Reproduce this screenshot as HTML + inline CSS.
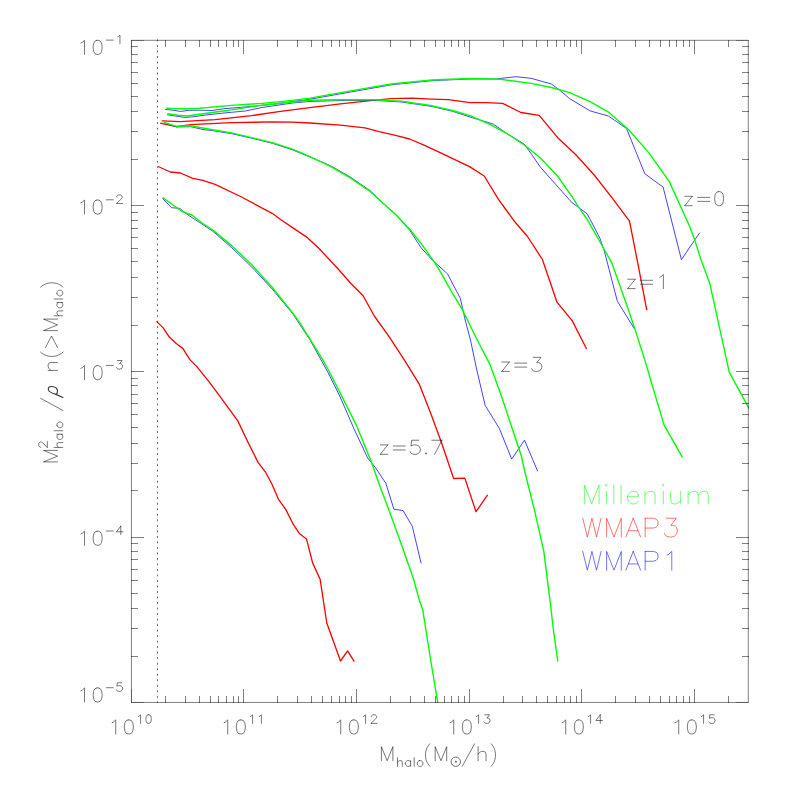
<!DOCTYPE html>
<html><head><meta charset="utf-8"><title>Halo mass function</title>
<style>
html,body{margin:0;padding:0;background:#fff;font-family:"Liberation Sans",sans-serif;}
svg{display:block}
</style></head>
<body>
<svg width="786" height="786" viewBox="0 0 786 786">
<rect width="786" height="786" fill="#fff"/>
<defs><clipPath id="c"><rect x="131.50" y="40.50" width="617.50" height="662.50"/></clipPath></defs>
<g clip-path="url(#c)" fill="none" stroke-linejoin="round" stroke-linecap="butt">
<path d="M161.7 120.8 L180.5 121.7 L215.1 119.7 L251.8 115.6 L282.3 111.1 L310.0 107.6 L340.5 103.8 L375.1 100.1 L391.4 98.7 L411.8 98.1 L432.1 99.1 L448.4 99.7 L470.0 102.7 L486.3 102.7 L502.6 103.4 L520.9 112.5 L539.2 115.4 L557.5 137.4 L575.9 154.7 L594.2 175.0 L612.5 198.4 L629.5 221.1 L637.0 259.2 L646.8 310.2" stroke="#ff0000" stroke-width="1.32"/>
<path d="M160.2 123.2 L176.6 126.6 L190.7 124.6 L231.4 122.7 L272.1 121.9 L292.5 122.1 L310.0 123.0 L340.5 125.1 L365.0 127.8 L379.2 131.7 L395.5 135.3 L409.7 139.0 L424.0 145.1 L442.3 153.6 L470.0 166.9 L484.2 176.0 L498.5 199.4 L506.2 210.0 L514.3 221.2 L527.5 236.5 L542.4 259.5 L557.0 302.2 L572.3 320.9 L586.6 349.0" stroke="#ff0000" stroke-width="1.32"/>
<path d="M158.1 166.5 L170.4 172.0 L180.5 173.0 L192.7 178.3 L202.9 180.4 L215.1 184.4 L241.6 197.0 L272.1 213.3 L281.3 220.0 L292.5 227.6 L300.0 232.6 L306.1 236.6 L318.3 247.8 L336.6 267.2 L350.9 283.5 L363.1 295.7 L374.3 316.0 L389.6 337.4 L403.8 359.2 L419.4 384.4 L430.6 412.9 L441.8 443.5 L453.6 478.5 L464.8 478.1 L476.0 511.7 L487.6 494.8" stroke="#ff0000" stroke-width="1.32"/>
<path d="M156.5 321.4 L163.2 327.9 L169.3 337.1 L176.5 343.8 L183.0 348.6 L189.7 359.4 L196.8 366.6 L207.0 379.2 L218.5 394.4 L237.8 420.9 L248.0 442.3 L258.2 462.6 L265.3 471.8 L271.4 483.0 L278.5 499.3 L285.7 509.4 L293.2 524.2 L299.3 533.4 L306.5 538.9 L312.6 562.9 L320.1 579.2 L326.8 623.0 L340.5 661.0 L347.6 650.9 L354.3 661.7" stroke="#ff0000" stroke-width="1.32"/>
<path d="M165.2 109.4 L172.8 110.2 L180.8 111.4 L188.8 110.3 L199.5 110.2 L212.0 110.5 L225.0 108.6 L241.6 107.3 L272.0 104.4 L310.0 99.2 L350.7 92.0 L391.4 84.8 L432.1 80.6 L470.0 79.0 L496.5 78.9 L515.8 76.7 L531.1 78.3 L551.4 84.0 L559.6 90.1 L569.7 98.7 L590.1 110.9 L608.4 116.0 L626.5 128.5 L644.8 173.7 L663.1 187.1 L681.4 259.6 L699.7 232.7" stroke="#0000ff" stroke-opacity="1" stroke-width="0.74"/>
<path d="M167.0 114.7 L184.4 117.4 L192.4 116.9 L204.9 115.1 L225.0 112.9 L231.4 112.3 L245.4 111.0 L262.0 107.5 L292.5 103.0 L310.0 101.4 L340.5 100.5 L375.1 100.4 L401.6 102.0 L432.1 106.5 L452.5 111.3 L470.0 117.0 L482.2 120.7 L493.4 124.1 L506.6 133.3 L523.9 143.9 L529.0 150.6 L540.2 166.9 L555.5 184.2 L571.8 202.5 L587.0 213.7 L590.1 219.2 L600.0 238.5 L604.1 250.2 L617.3 301.1 L634.6 329.2" stroke="#0000ff" stroke-opacity="1" stroke-width="0.74"/>
<path d="M163.9 122.5 L176.6 127.0 L190.7 126.6 L203.0 129.6 L211.0 130.4 L231.4 133.6 L251.8 138.2 L272.1 143.2 L292.5 149.8 L310.0 157.0 L330.4 165.7 L350.7 177.3 L371.1 191.4 L380.0 200.5 L395.7 214.5 L409.9 230.5 L421.1 247.8 L432.3 260.0 L447.6 274.0 L460.4 298.5 L465.4 320.9 L470.5 340.0 L476.6 369.2 L485.2 405.5 L499.4 428.5 L511.7 459.1 L524.5 440.2 L537.7 471.3" stroke="#0000ff" stroke-opacity="1" stroke-width="0.74"/>
<path d="M162.4 198.3 L171.5 207.7 L179.8 208.4 L186.8 214.1 L199.5 222.4 L213.1 231.4 L231.4 247.4 L251.8 267.1 L272.1 288.9 L292.5 313.4 L310.0 339.8 L328.0 372.5 L340.0 396.6 L354.2 429.2 L367.5 457.7 L375.6 467.9 L385.8 483.2 L393.9 509.2 L403.1 510.6 L412.3 526.3 L421.1 563.3" stroke="#0000ff" stroke-opacity="1" stroke-width="0.74"/>
<path d="M166.2 108.1 L175.0 108.6 L186.0 108.7 L199.5 108.2 L231.4 105.4 L262.0 103.4 L292.5 100.4 L310.0 98.1 L350.7 90.9 L391.4 84.0 L432.1 80.0 L470.0 78.5 L500.5 79.3 L531.1 83.4 L551.4 87.5 L569.7 92.6 L590.1 101.7 L608.1 111.8 L628.5 129.5 L648.9 152.9 L669.2 181.4 L689.6 226.2 L694.7 240.0 L700.8 259.2 L709.9 283.8 L729.3 372.3 L748.2 406.8 L752.0 413.0" stroke="#00ff00" stroke-width="1.38"/>
<path d="M167.5 113.8 L178.0 115.2 L187.1 116.0 L199.5 114.3 L225.0 110.7 L231.4 109.9 L246.0 107.6 L262.0 105.2 L292.5 102.0 L310.0 100.2 L340.5 99.7 L375.1 99.7 L401.6 101.3 L432.1 105.8 L452.5 110.5 L470.0 115.6 L490.4 124.7 L506.6 133.3 L525.0 145.5 L540.2 157.7 L557.5 176.0 L571.8 196.4 L580.5 210.0 L587.0 219.2 L600.0 242.0 L611.8 262.8 L628.9 311.2 L635.1 329.6 L644.8 360.0 L656.4 399.2 L664.1 425.1 L682.4 457.3" stroke="#00ff00" stroke-width="1.38"/>
<path d="M163.9 122.3 L176.6 126.3 L190.7 125.8 L211.0 129.5 L231.4 132.9 L251.8 137.6 L272.1 142.7 L292.5 149.2 L310.0 156.6 L330.4 166.3 L350.7 178.1 L371.1 192.2 L380.0 200.5 L395.7 214.5 L409.9 229.5 L422.1 244.8 L434.4 262.1 L440.0 271.1 L450.2 289.4 L462.4 309.7 L476.6 338.8 L489.9 364.4 L501.1 395.0 L511.2 425.5 L521.4 456.0 L524.4 470.0 L534.6 510.7 L543.8 551.4 L548.9 592.1 L550.0 600.0 L553.3 629.2 L557.8 661.5" stroke="#00ff00" stroke-width="1.38"/>
<path d="M162.8 197.6 L172.6 204.7 L182.4 211.6 L191.9 215.0 L202.1 223.0 L213.5 230.6 L231.4 245.4 L251.8 264.8 L272.1 287.2 L292.5 312.6 L300.0 323.2 L310.0 339.1 L322.4 359.2 L328.4 370.0 L340.0 392.6 L356.3 425.1 L370.5 459.7 L380.7 488.2 L388.9 510.0 L402.1 546.6 L413.3 578.2 L419.3 600.0 L422.8 610.2 L430.5 659.0 L437.7 702.4 L438.5 707.0" stroke="#00ff00" stroke-width="1.38"/>
</g>
<path d="M157.5 39.45V703.00" stroke="#000" stroke-opacity="0.6" stroke-width="1" stroke-dasharray="1.9 3.616" fill="none"/>
<path d="M131.42 40.32 H748.3 V702.45 H131.42 Z" fill="none" stroke="#000" stroke-opacity="0.50" stroke-width="1"/>
<path d="M165.5 703.0V696.0M165.5 40.0V47.0M185.5 703.0V696.0M185.5 40.0V47.0M199.5 703.0V696.0M199.5 40.0V47.0M210.5 703.0V696.0M210.5 40.0V47.0M218.5 703.0V696.0M218.5 40.0V47.0M226.5 703.0V696.0M226.5 40.0V47.0M233.5 703.0V696.0M233.5 40.0V47.0M238.5 703.0V696.0M238.5 40.0V47.0M243.5 703.0V689.0M243.5 40.0V54.0M277.5 703.0V696.0M277.5 40.0V47.0M297.5 703.0V696.0M297.5 40.0V47.0M311.5 703.0V696.0M311.5 40.0V47.0M322.5 703.0V696.0M322.5 40.0V47.0M331.5 703.0V696.0M331.5 40.0V47.0M339.5 703.0V696.0M339.5 40.0V47.0M345.5 703.0V696.0M345.5 40.0V47.0M351.5 703.0V696.0M351.5 40.0V47.0M356.5 703.0V689.0M356.5 40.0V54.0M390.5 703.0V696.0M390.5 40.0V47.0M410.5 703.0V696.0M410.5 40.0V47.0M424.5 703.0V696.0M424.5 40.0V47.0M435.5 703.0V696.0M435.5 40.0V47.0M444.5 703.0V696.0M444.5 40.0V47.0M451.5 703.0V696.0M451.5 40.0V47.0M458.5 703.0V696.0M458.5 40.0V47.0M464.5 703.0V696.0M464.5 40.0V47.0M469.5 703.0V689.0M469.5 40.0V54.0M503.5 703.0V696.0M503.5 40.0V47.0M522.5 703.0V696.0M522.5 40.0V47.0M536.5 703.0V696.0M536.5 40.0V47.0M547.5 703.0V696.0M547.5 40.0V47.0M556.5 703.0V696.0M556.5 40.0V47.0M564.5 703.0V696.0M564.5 40.0V47.0M570.5 703.0V696.0M570.5 40.0V47.0M576.5 703.0V696.0M576.5 40.0V47.0M581.5 703.0V689.0M581.5 40.0V54.0M615.5 703.0V696.0M615.5 40.0V47.0M635.5 703.0V696.0M635.5 40.0V47.0M649.5 703.0V696.0M649.5 40.0V47.0M660.5 703.0V696.0M660.5 40.0V47.0M669.5 703.0V696.0M669.5 40.0V47.0M676.5 703.0V696.0M676.5 40.0V47.0M683.5 703.0V696.0M683.5 40.0V47.0M689.5 703.0V696.0M689.5 40.0V47.0M694.5 703.0V689.0M694.5 40.0V54.0M728.5 703.0V696.0M728.5 40.0V47.0M131.0 46.5H138.0M749.0 46.5H742.0M131.0 54.5H138.0M749.0 54.5H742.0M131.0 62.5H138.0M749.0 62.5H742.0M131.0 72.5H138.0M749.0 72.5H742.0M131.0 83.5H138.0M749.0 83.5H742.0M131.0 96.5H138.0M749.0 96.5H742.0M131.0 111.5H138.0M749.0 111.5H742.0M131.0 131.5H138.0M749.0 131.5H742.0M131.0 159.5H138.0M749.0 159.5H742.0M131.0 205.5H144.0M749.0 205.5H736.0M131.0 212.5H138.0M749.0 212.5H742.0M131.0 220.5H138.0M749.0 220.5H742.0M131.0 228.5H138.0M749.0 228.5H742.0M131.0 237.5H138.0M749.0 237.5H742.0M131.0 248.5H138.0M749.0 248.5H742.0M131.0 261.5H138.0M749.0 261.5H742.0M131.0 277.5H138.0M749.0 277.5H742.0M131.0 297.5H138.0M749.0 297.5H742.0M131.0 325.5H138.0M749.0 325.5H742.0M131.0 371.5H144.0M749.0 371.5H736.0M131.0 378.5H138.0M749.0 378.5H742.0M131.0 385.5H138.0M749.0 385.5H742.0M131.0 394.5H138.0M749.0 394.5H742.0M131.0 403.5H138.0M749.0 403.5H742.0M131.0 414.5H138.0M749.0 414.5H742.0M131.0 427.5H138.0M749.0 427.5H742.0M131.0 443.5H138.0M749.0 443.5H742.0M131.0 463.5H138.0M749.0 463.5H742.0M131.0 490.5H138.0M749.0 490.5H742.0M131.0 537.5H144.0M749.0 537.5H736.0M131.0 543.5H138.0M749.0 543.5H742.0M131.0 551.5H138.0M749.0 551.5H742.0M131.0 559.5H138.0M749.0 559.5H742.0M131.0 569.5H138.0M749.0 569.5H742.0M131.0 580.5H138.0M749.0 580.5H742.0M131.0 593.5H138.0M749.0 593.5H742.0M131.0 608.5H138.0M749.0 608.5H742.0M131.0 628.5H138.0M749.0 628.5H742.0M131.0 656.5H138.0M749.0 656.5H742.0" fill="none" stroke="#000" stroke-opacity="0.50" stroke-width="1"/>
<path d="M131.0 40.5H144.0M749.0 40.5H736.0M131.0 702.5H144.0M749.0 702.5H736.0M131.5 40.0V54.0M131.5 703.0V689.0" fill="none" stroke="#000" stroke-opacity="0.30" stroke-width="1"/>
<path d="M80.92 43.01L82.36 42.34L84.52 40.33L84.52 54.40M97.00 40.33L95.08 41.00L93.80 43.01L93.16 46.36L93.16 48.37L93.80 51.72L95.08 53.73L97.00 54.40L98.29 54.40L100.21 53.73L101.49 51.72L102.13 48.37L102.13 46.36L101.49 43.01L100.21 41.00L98.29 40.33L97.00 40.33M106.30 40.11L113.34 40.11M117.74 36.83L118.62 36.42L119.94 35.19L119.94 43.80M80.92 202.71L82.36 202.04L84.52 200.03L84.52 214.10M97.00 200.03L95.08 200.70L93.80 202.71L93.16 206.06L93.16 208.07L93.80 211.42L95.08 213.43L97.00 214.10L98.29 214.10L100.21 213.43L101.49 211.42L102.13 208.07L102.13 206.06L101.49 202.71L100.21 200.70L98.29 200.03L97.00 200.03M106.30 199.81L113.34 199.81M116.86 196.94L116.86 196.53L117.30 195.71L117.74 195.30L118.62 194.89L120.38 194.89L121.26 195.30L121.70 195.71L122.14 196.53L122.14 197.35L121.70 198.17L120.82 199.40L116.42 203.50L122.58 203.50M80.92 368.31L82.36 367.64L84.52 365.63L84.52 379.70M97.00 365.63L95.08 366.30L93.80 368.31L93.16 371.66L93.16 373.67L93.80 377.02L95.08 379.03L97.00 379.70L98.29 379.70L100.21 379.03L101.49 377.02L102.13 373.67L102.13 371.66L101.49 368.31L100.21 366.30L98.29 365.63L97.00 365.63M106.30 365.41L113.34 365.41M117.30 360.49L122.14 360.49L119.50 363.77L120.82 363.77L121.70 364.18L122.14 364.59L122.58 365.82L122.58 366.64L122.14 367.87L121.26 368.69L119.94 369.10L118.62 369.10L117.30 368.69L116.86 368.28L116.42 367.46M80.92 533.91L82.36 533.24L84.52 531.23L84.52 545.30M97.00 531.23L95.08 531.90L93.80 533.91L93.16 537.26L93.16 539.27L93.80 542.62L95.08 544.63L97.00 545.30L98.29 545.30L100.21 544.63L101.49 542.62L102.13 539.27L102.13 537.26L101.49 533.91L100.21 531.90L98.29 531.23L97.00 531.23M106.30 531.01L113.34 531.01M120.82 526.09L116.42 531.83L123.02 531.83M120.82 526.09L120.82 534.70M80.92 690.61L82.36 689.94L84.52 687.93L84.52 702.00M97.00 687.93L95.08 688.60L93.80 690.61L93.16 693.96L93.16 695.97L93.80 699.32L95.08 701.33L97.00 702.00L98.29 702.00L100.21 701.33L101.49 699.32L102.13 695.97L102.13 693.96L101.49 690.61L100.21 688.60L98.29 687.93L97.00 687.93M106.30 687.71L113.34 687.71M121.70 682.79L117.30 682.79L116.86 686.48L117.30 686.07L118.62 685.66L119.94 685.66L121.26 686.07L122.14 686.89L122.58 688.12L122.58 688.94L122.14 690.17L121.26 690.99L119.94 691.40L118.62 691.40L117.30 690.99L116.86 690.58L116.42 689.76M112.12 722.61L113.56 721.94L115.72 719.93L115.72 734.00M128.20 719.93L126.28 720.60L125.00 722.61L124.36 725.96L124.36 727.97L125.00 731.32L126.28 733.33L128.20 734.00L129.49 734.00L131.41 733.33L132.69 731.32L133.33 727.97L133.33 725.96L132.69 722.61L131.41 720.60L129.49 719.93L128.20 719.93M138.38 716.43L139.26 716.02L140.58 714.79L140.58 723.40M148.21 714.79L147.03 715.20L146.25 716.43L145.86 718.48L145.86 719.71L146.25 721.76L147.03 722.99L148.21 723.40L148.99 723.40L150.16 722.99L150.95 721.76L151.34 719.71L151.34 718.48L150.95 716.43L150.16 715.20L148.99 714.79L148.21 714.79M224.12 722.61L225.56 721.94L227.72 719.93L227.72 734.00M240.20 719.93L238.28 720.60L237.00 722.61L236.36 725.96L236.36 727.97L237.00 731.32L238.28 733.33L240.20 734.00L241.49 734.00L243.41 733.33L244.69 731.32L245.33 727.97L245.33 725.96L244.69 722.61L243.41 720.60L241.49 719.93L240.20 719.93M250.38 716.43L251.26 716.02L252.58 714.79L252.58 723.40M259.18 716.43L260.06 716.02L261.38 714.79L261.38 723.40M337.12 722.61L338.56 721.94L340.72 719.93L340.72 734.00M353.20 719.93L351.28 720.60L350.00 722.61L349.36 725.96L349.36 727.97L350.00 731.32L351.28 733.33L353.20 734.00L354.49 734.00L356.41 733.33L357.69 731.32L358.33 727.97L358.33 725.96L357.69 722.61L356.41 720.60L354.49 719.93L353.20 719.93M363.38 716.43L364.26 716.02L365.58 714.79L365.58 723.40M371.30 716.84L371.30 716.43L371.74 715.61L372.18 715.20L373.06 714.79L374.82 714.79L375.70 715.20L376.14 715.61L376.58 716.43L376.58 717.25L376.14 718.07L375.26 719.30L370.86 723.40L377.02 723.40M450.12 722.61L451.56 721.94L453.72 719.93L453.72 734.00M466.20 719.93L464.28 720.60L463.00 722.61L462.36 725.96L462.36 727.97L463.00 731.32L464.28 733.33L466.20 734.00L467.49 734.00L469.41 733.33L470.69 731.32L471.33 727.97L471.33 725.96L470.69 722.61L469.41 720.60L467.49 719.93L466.20 719.93M476.38 716.43L477.26 716.02L478.58 714.79L478.58 723.40M484.74 714.79L489.58 714.79L486.94 718.07L488.26 718.07L489.14 718.48L489.58 718.89L490.02 720.12L490.02 720.94L489.58 722.17L488.70 722.99L487.38 723.40L486.06 723.40L484.74 722.99L484.30 722.58L483.86 721.76M562.12 722.61L563.56 721.94L565.72 719.93L565.72 734.00M578.20 719.93L576.28 720.60L575.00 722.61L574.36 725.96L574.36 727.97L575.00 731.32L576.28 733.33L578.20 734.00L579.49 734.00L581.41 733.33L582.69 731.32L583.33 727.97L583.33 725.96L582.69 722.61L581.41 720.60L579.49 719.93L578.20 719.93M588.38 716.43L589.26 716.02L590.58 714.79L590.58 723.40M600.26 714.79L595.86 720.53L602.46 720.53M600.26 714.79L600.26 723.40M675.12 722.61L676.56 721.94L678.72 719.93L678.72 734.00M691.20 719.93L689.28 720.60L688.00 722.61L687.36 725.96L687.36 727.97L688.00 731.32L689.28 733.33L691.20 734.00L692.49 734.00L694.41 733.33L695.69 731.32L696.33 727.97L696.33 725.96L695.69 722.61L694.41 720.60L692.49 719.93L691.20 719.93M701.38 716.43L702.26 716.02L703.58 714.79L703.58 723.40M714.14 714.79L709.74 714.79L709.30 718.48L709.74 718.07L711.06 717.66L712.38 717.66L713.70 718.07L714.58 718.89L715.02 720.12L715.02 720.94L714.58 722.17L713.70 722.99L712.38 723.40L711.06 723.40L709.74 722.99L709.30 722.58L708.86 721.76M381.38 760.75L381.38 746.68L387.14 760.75L392.90 746.68L392.90 760.75M397.46 757.74L397.46 766.35M397.46 762.25L398.78 761.02L399.66 760.61L400.98 760.61L401.86 761.02L402.30 762.25L402.30 766.35M410.66 760.61L410.66 766.35M410.66 761.84L409.78 761.02L408.90 760.61L407.58 760.61L406.70 761.02L405.82 761.84L405.38 763.07L405.38 763.89L405.82 765.12L406.70 765.94L407.58 766.35L408.90 766.35L409.78 765.94L410.66 765.12M414.18 757.74L414.18 766.35M419.46 760.61L418.58 761.02L417.70 761.84L417.26 763.07L417.26 763.89L417.70 765.12L418.58 765.94L419.46 766.35L420.78 766.35L421.66 765.94L422.54 765.12L422.98 763.89L422.98 763.07L422.54 761.84L421.66 761.02L420.78 760.61L419.46 760.61M429.80 743.80L428.57 745.20L427.33 747.31L426.10 750.11L425.48 753.62L425.48 756.42L426.10 759.93L427.33 762.74L428.57 764.84L429.80 766.24M435.18 760.75L435.18 746.68L440.94 760.75L446.70 746.68L446.70 760.75M474.54 743.80L462.30 766.24M478.08 746.68L478.08 760.75M478.08 754.05L480.24 752.04L481.68 751.37L483.84 751.37L485.28 752.04L486.00 754.05L486.00 760.75M491.16 743.80L492.39 745.20L493.63 747.31L494.86 750.11L495.48 753.62L495.48 756.42L494.86 759.93L493.63 762.74L492.39 764.84L491.16 766.24M57.55 461.92L43.48 461.92L57.55 456.16L43.48 450.40L57.55 450.40M40.79 447.24L40.38 447.24L39.56 446.80L39.15 446.36L38.74 445.48L38.74 443.72L39.15 442.84L39.56 442.40L40.38 441.96L41.20 441.96L42.02 442.40L43.25 443.28L47.35 447.68L47.35 441.52M54.14 447.44L62.75 447.44M58.65 447.44L57.42 446.12L57.01 445.24L57.01 443.92L57.42 443.04L58.65 442.60L62.75 442.60M57.01 434.24L62.75 434.24M58.24 434.24L57.42 435.12L57.01 436.00L57.01 437.32L57.42 438.20L58.24 439.08L59.47 439.52L60.29 439.52L61.52 439.08L62.34 438.20L62.75 437.32L62.75 436.00L62.34 435.12L61.52 434.24M54.14 430.72L62.75 430.72M57.01 425.44L57.42 426.32L58.24 427.20L59.47 427.64L60.29 427.64L61.52 427.20L62.34 426.32L62.75 425.44L62.75 424.12L62.34 423.24L61.52 422.36L60.29 421.92L59.47 421.92L58.24 422.36L57.42 423.24L57.01 424.12L57.01 425.44M40.60 398.31L63.04 410.55M48.17 370.42L57.55 370.42M50.85 370.42L48.84 368.26L48.17 366.82L48.17 364.66L48.84 363.22L50.85 362.50L57.55 362.50M40.60 352.10L42.00 353.33L44.11 354.57L46.91 355.80L50.42 356.42L53.22 356.42L56.73 355.80L59.54 354.57L61.64 353.33L63.04 352.10M45.49 347.52L51.52 336.00L57.55 347.52M57.55 330.62L43.48 330.62L57.55 324.86L43.48 319.10L57.55 319.10M54.14 315.74L62.75 315.74M58.65 315.74L57.42 314.42L57.01 313.54L57.01 312.22L57.42 311.34L58.65 310.90L62.75 310.90M57.01 302.54L62.75 302.54M58.24 302.54L57.42 303.42L57.01 304.30L57.01 305.62L57.42 306.50L58.24 307.38L59.47 307.82L60.29 307.82L61.52 307.38L62.34 306.50L62.75 305.62L62.75 304.30L62.34 303.42L61.52 302.54M54.14 299.02L62.75 299.02M57.01 293.74L57.42 294.62L58.24 295.50L59.47 295.94L60.29 295.94L61.52 295.50L62.34 294.62L62.75 293.74L62.75 292.42L62.34 291.54L61.52 290.66L60.29 290.22L59.47 290.22L58.24 290.66L57.42 291.54L57.01 292.42L57.01 293.74M40.60 287.14L42.00 285.91L44.11 284.67L46.91 283.44L50.42 282.82L53.22 282.82L56.73 283.44L59.54 284.67L61.64 285.91L63.04 287.14M692.24 196.32L684.75 205.70M684.75 196.32L692.24 196.32M684.75 205.70L692.24 205.70M697.64 197.39L709.66 197.39M697.64 201.38L709.66 201.38M718.47 191.63L716.55 192.30L715.27 194.31L714.63 197.66L714.63 199.67L715.27 203.02L716.55 205.03L718.47 205.70L719.75 205.70L721.68 205.03L722.96 203.02L723.60 199.67L723.60 197.66L722.96 194.31L721.68 192.30L719.75 191.63L718.47 191.63M635.24 279.22L627.75 288.60M627.75 279.22L635.24 279.22M627.75 288.60L635.24 288.60M640.64 280.29L652.66 280.29M640.64 284.28L652.66 284.28M659.79 277.21L661.23 276.54L663.39 274.53L663.39 288.60M509.34 362.02L501.85 371.40M501.85 362.02L509.34 362.02M501.85 371.40L509.34 371.40M514.74 363.09L526.76 363.09M514.74 367.08L526.76 367.08M533.17 357.33L541.09 357.33L536.77 362.69L538.93 362.69L540.37 363.36L541.09 364.03L541.81 366.04L541.81 367.38L541.09 369.39L539.65 370.73L537.49 371.40L535.33 371.40L533.17 370.73L532.45 370.06L531.73 368.72M387.84 444.92L380.35 454.30M380.35 444.92L387.84 444.92M380.35 454.30L387.84 454.30M393.24 445.99L405.26 445.99M393.24 449.98L405.26 449.98M418.87 440.23L411.67 440.23L410.95 446.26L411.67 445.59L413.83 444.92L415.99 444.92L418.15 445.59L419.59 446.93L420.31 448.94L420.31 450.28L419.59 452.29L418.15 453.63L415.99 454.30L413.83 454.30L411.67 453.63L410.95 452.96L410.23 451.62M426.07 452.96L425.35 453.63L426.07 454.30L426.79 453.63L426.07 452.96M441.91 440.23L434.71 454.30M431.83 440.23L441.91 440.23" fill="none" stroke="#000" stroke-opacity="0.92" stroke-width="0.58" stroke-linecap="round" stroke-linejoin="round"/>
<circle cx="455.8" cy="761.7" r="4.7" fill="none" stroke="#000" stroke-opacity="0.55" stroke-width="1"/><circle cx="455.9" cy="761.7" r="0.9" fill="#000" fill-opacity="0.7"/>
<path d="M62.9 397.5L55.9 394.4C52.7 393.6 48.9 392.2 48.3 389.5C47.9 387.2 50 386.3 52.4 386.5C55.5 386.9 57.6 389.1 57.5 391.6C57.4 393.1 56.9 394.1 55.9 394.4" fill="none" stroke="#000" stroke-opacity="0.8" stroke-width="1.15" stroke-linecap="round" stroke-linejoin="round"/>
<path d="M584.37 503.90L584.37 485.10L591.72 503.90L599.06 485.10L599.06 503.90M605.49 485.10L606.40 486.00L607.32 485.10L606.40 484.21L605.49 485.10M606.40 491.37L606.40 503.90M613.75 485.10L613.75 503.90M621.09 485.10L621.09 503.90M627.52 496.74L638.53 496.74L638.53 494.95L637.62 493.16L636.70 492.26L634.86 491.37L632.11 491.37L630.27 492.26L628.44 494.05L627.52 496.74L627.52 498.53L628.44 501.21L630.27 503.00L632.11 503.90L634.86 503.90L636.70 503.00L638.53 501.21M644.96 491.37L644.96 503.90M644.96 494.95L647.71 492.26L649.55 491.37L652.30 491.37L654.14 492.26L655.06 494.95L655.06 503.90M662.40 485.10L663.32 486.00L664.24 485.10L663.32 484.21L662.40 485.10M663.32 491.37L663.32 503.90M670.66 491.37L670.66 500.32L671.58 503.00L673.42 503.90L676.17 503.90L678.01 503.00L680.76 500.32M680.76 491.37L680.76 503.90M688.11 491.37L688.11 503.90M688.11 494.95L690.86 492.26L692.70 491.37L695.45 491.37L697.29 492.26L698.20 494.95L698.20 503.90M698.20 494.95L700.96 492.26L702.79 491.37L705.55 491.37L707.38 492.26L708.30 494.95L708.30 503.90" fill="none" stroke="#00ff00" stroke-opacity="0.92" stroke-width="0.6" stroke-linecap="round" stroke-linejoin="round"/>
<path d="M582.74 518.21L587.33 537.00L591.92 518.21L596.51 537.00L601.10 518.21M606.60 537.00L606.60 518.21L613.95 537.00L621.29 518.21L621.29 537.00M633.23 518.21L625.88 537.00M633.23 518.21L640.57 537.00M628.64 530.74L637.82 530.74M645.16 518.21L645.16 537.00M645.16 518.21L653.42 518.21L656.18 519.10L657.09 520.00L658.01 521.78L658.01 524.47L657.09 526.26L656.18 527.15L653.42 528.05L645.16 528.05M666.27 518.21L676.37 518.21L670.86 525.37L673.62 525.37L675.45 526.26L676.37 527.15L677.29 529.84L677.29 531.63L676.37 534.32L674.54 536.11L671.78 537.00L669.03 537.00L666.27 536.11L665.36 535.21L664.44 533.42" fill="none" stroke="#ff0000" stroke-opacity="0.92" stroke-width="0.6" stroke-linecap="round" stroke-linejoin="round"/>
<path d="M582.74 551.41L587.33 570.20L591.92 551.41L596.51 570.20L601.10 551.41M606.60 570.20L606.60 551.41L613.95 570.20L621.29 551.41L621.29 570.20M633.23 551.41L625.88 570.20M633.23 551.41L640.57 570.20M628.64 563.94L637.82 563.94M645.16 551.41L645.16 570.20M645.16 551.41L653.42 551.41L656.18 552.30L657.09 553.20L658.01 554.99L658.01 557.67L657.09 559.46L656.18 560.36L653.42 561.25L645.16 561.25M667.19 554.99L669.03 554.09L671.78 551.41L671.78 570.20" fill="none" stroke="#0000ff" stroke-opacity="0.92" stroke-width="0.6" stroke-linecap="round" stroke-linejoin="round"/>
</svg>
</body></html>
